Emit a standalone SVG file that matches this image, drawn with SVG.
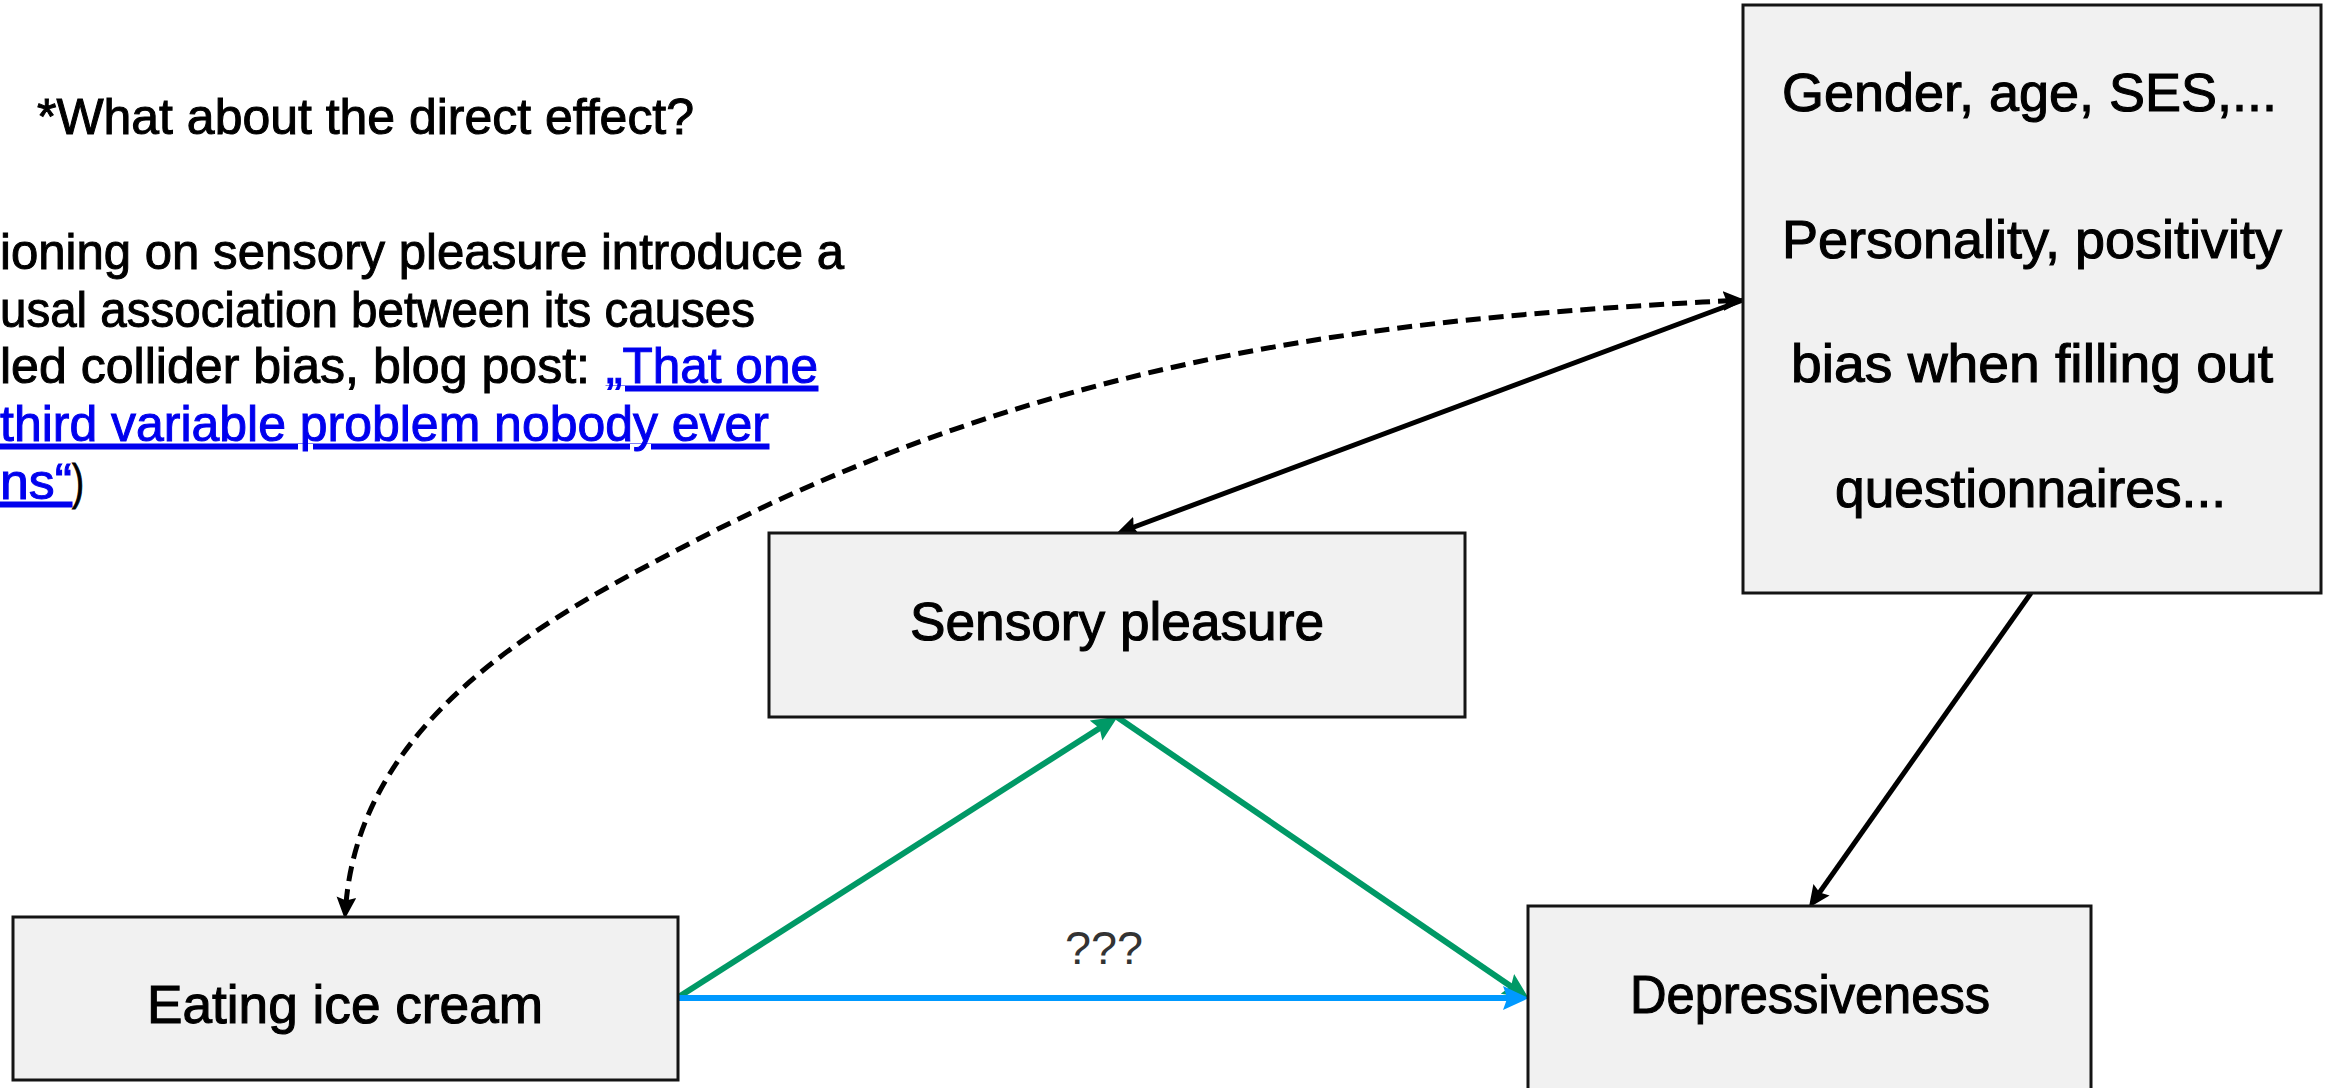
<svg xmlns="http://www.w3.org/2000/svg" width="2333" height="1088" viewBox="0 0 2333 1088">
<style>
.box{fill:#f1f1f1;stroke:#141414;stroke-width:3}
.lbl{font-family:"Liberation Sans",Arial,sans-serif;font-size:54px;fill:#000;stroke:#000;stroke-width:1.1}
.para{font-family:"Liberation Sans",Arial,sans-serif;font-size:50px;fill:#000;stroke:#000;stroke-width:1}
.link{fill:#0000EE;stroke:#0000EE;text-decoration:underline}
.blk{fill:none;stroke:#000;stroke-width:5}
.dash{fill:none;stroke:#000;stroke-width:5;stroke-dasharray:15 8}
.grn{fill:none;stroke:#009966;stroke-width:6}
.blu{fill:none;stroke:#0099FF;stroke-width:6}
</style>
<defs>
<marker id="ab" markerUnits="userSpaceOnUse" markerWidth="22" markerHeight="20" viewBox="0 0 20 18" refX="9" refY="9" orient="auto-start-reverse"><path d="M0,0 L20,9 L0,18 L3,9 z" fill="#000"/></marker>
<marker id="ag" markerUnits="userSpaceOnUse" markerWidth="26" markerHeight="24" viewBox="0 0 24 22" refX="12" refY="11" orient="auto"><path d="M0,0 L24,11 L0,22 L4,11 z" fill="#009966"/></marker>
<marker id="au" markerUnits="userSpaceOnUse" markerWidth="26" markerHeight="24" viewBox="0 0 24 22" refX="12" refY="11" orient="auto"><path d="M0,0 L24,11 L0,22 L4,11 z" fill="#0099FF"/></marker>
</defs>

<g id="notes">
<text class="para" x="37" y="134" textLength="657" lengthAdjust="spacingAndGlyphs">*What about the direct effect?</text>
<text class="para" x="0" y="269" textLength="844" lengthAdjust="spacingAndGlyphs">ioning on sensory pleasure introduce a</text>
<text class="para" x="0" y="327" textLength="755" lengthAdjust="spacingAndGlyphs">usal association between its causes</text>
<text class="para" x="0" y="383" textLength="590" lengthAdjust="spacingAndGlyphs">led collider bias, blog post:</text>
<text class="para link" x="606" y="383" textLength="212" lengthAdjust="spacingAndGlyphs">„That one</text>
<text class="para link" x="0" y="441" textLength="769" lengthAdjust="spacingAndGlyphs">third variable problem nobody ever</text>
<text class="para link" x="0" y="499" textLength="72" lengthAdjust="spacingAndGlyphs">ns“</text>
<text class="para" x="72" y="499" textLength="12" lengthAdjust="spacingAndGlyphs">)</text>
</g>

<g id="connectors">
<path class="dash" d="M1733,300.5 C1393,318 1055,352 683,547 C550,616 360,717 345.7,907" marker-start="url(#ab)" marker-end="url(#ab)"/>
<line class="blk" x1="1743" y1="300" x2="1127.4" y2="529.5" marker-end="url(#ab)"/>
<line class="blk" x1="2031" y1="593" x2="1815.8" y2="897.8" marker-end="url(#ab)"/>
<line class="grn" x1="677" y1="998" x2="1106.9" y2="723.5" marker-end="url(#ag)"/>
<line class="grn" x1="1117" y1="717" x2="1518.1" y2="991.2" marker-end="url(#ag)"/>
<line class="blu" x1="677" y1="998" x2="1516" y2="998" marker-end="url(#au)"/>
<text x="1065" y="964" font-family="Liberation Sans, Arial, sans-serif" font-size="46" fill="#333" textLength="78" lengthAdjust="spacingAndGlyphs">???</text>
</g>

<g id="node-confounders">
<rect class="box" x="1743" y="5" width="578" height="588"/>
<text class="lbl" x="1782" y="111" textLength="495" lengthAdjust="spacingAndGlyphs">Gender, age, SES,...</text>
<text class="lbl" x="1782" y="258" textLength="500" lengthAdjust="spacingAndGlyphs">Personality, positivity</text>
<text class="lbl" x="1791" y="382" textLength="482" lengthAdjust="spacingAndGlyphs">bias when filling out</text>
<text class="lbl" x="1835" y="507" textLength="391" lengthAdjust="spacingAndGlyphs">questionnaires...</text>
</g>

<g id="node-sensory">
<rect class="box" x="769" y="533" width="696" height="184"/>
<text class="lbl" x="910" y="640" textLength="414" lengthAdjust="spacingAndGlyphs">Sensory pleasure</text>
</g>

<g id="node-icecream">
<rect class="box" x="13" y="917" width="665" height="163"/>
<text class="lbl" x="147" y="1023" textLength="396" lengthAdjust="spacingAndGlyphs">Eating ice cream</text>
</g>

<g id="node-depress">
<rect class="box" x="1528" y="906" width="563" height="200"/>
<text class="lbl" x="1630" y="1013" textLength="360" lengthAdjust="spacingAndGlyphs">Depressiveness</text>
</g>
</svg>
